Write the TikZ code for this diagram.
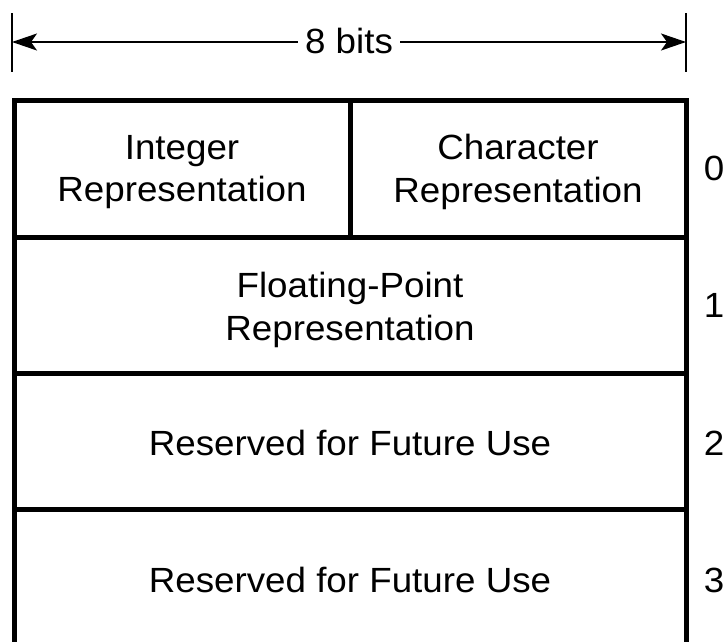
\documentclass[tikz,border=0pt]{standalone}
\usepackage{fontspec}
\setmainfont{Liberation Sans}[FakeStretch=1.05]
\usetikzlibrary{arrows.meta}
\begin{document}
\begin{tikzpicture}[x=1pt,y=-1pt,
  frame/.style={line width=5pt},
  tick/.style={line width=1.6pt},
  dimtip/.style={-{Stealth[length=25pt,width=17pt,inset=6pt]}},
  lbl/.style={align=center,inner sep=0pt,font=\fontsize{35}{42.5}\selectfont},
  rownum/.style={inner sep=0pt,font=\fontsize{35}{42.5}\selectfont}]
\useasboundingbox (0,0) rectangle (725,641);
% dimension line
\coordinate (tl1) at (12,13); \coordinate (tl2) at (12,72);
\coordinate (tr1) at (686,13); \coordinate (tr2) at (686,72);
\draw[tick] (tl1) -- (tl2);
\draw[tick] (tr1) -- (tr2);
\coordinate (al) at (12,42); \coordinate (ar) at (686,42);
\node[lbl,fill=white,inner xsep=7pt,inner ysep=4pt] (bits) at (349,41) {8 bits};
\draw[line width=1.8pt,dimtip] (bits.west |- al) -- (al);
\draw[line width=1.8pt,dimtip] (bits.east |- ar) -- (ar);
% frame
\draw[frame,line join=miter] (14,645) -- (14,100) -- (686,100) -- (686,645);
\draw[frame] (14,237) -- (686,237);
\draw[frame] (14,373) -- (686,373);
\draw[frame] (14,509) -- (686,509);
\draw[frame] (350,100) -- (350,237);
% texts
\node[lbl] (int) at (182,172) {Integer\\Representation};
\node[lbl] (chr) at (518,172) {Character\\Representation};
\node[lbl] (fp) at (350,310) {Floating-Point\\Representation};
\node[lbl] (r2) at (350,443) {Reserved for Future Use};
\node[lbl] (r3) at (350,580) {Reserved for Future Use};
% row numbers
\node[rownum] (n0) at (714,168) {0};
\node[rownum] (n1) at (714,305) {1};
\node[rownum] (n2) at (714,443) {2};
\node[rownum] (n3) at (714,580) {3};
\end{tikzpicture}
\end{document}
